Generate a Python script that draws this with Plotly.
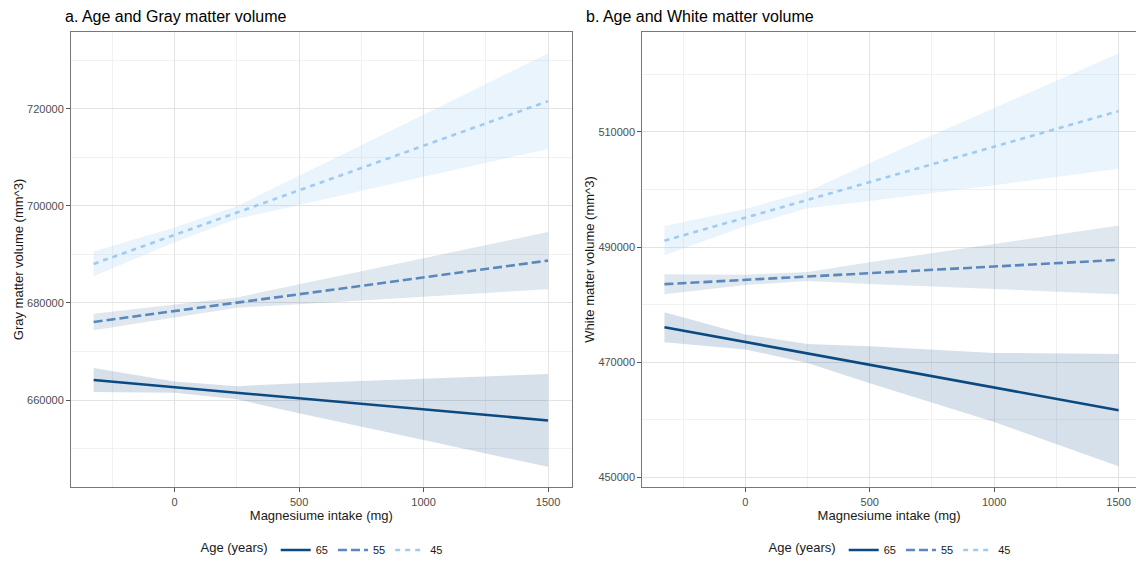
import plotly.graph_objects as go

# ---------------- data ----------------
ages = ["65", "55", "45"]
line_x = [-325, 1500]
ribbon_x = [-325, 0, 250, 500, 1000, 1500]

# Panel a: Gray matter volume
gray_65_line = [664150, 655816]
gray_65_upper = [666640, 663816, 662874, 663482, 664399, 665366]
gray_65_lower = [661660, 661516, 660174, 657282, 651799, 646266]

gray_55_line = [676090, 688727]
gray_55_upper = [677790, 679690, 681130, 683850, 689210, 694610]
gray_55_lower = [674390, 676990, 679010, 679750, 681310, 682850]

gray_45_line = [688050, 721560]
gray_45_upper = [690610, 695520, 699910, 706200, 718780, 731390]
gray_45_lower = [685490, 692520, 697310, 700200, 705980, 711730]

# Panel b: White matter volume
white_65_line = [476098, 461700]
white_65_upper = [478688, 474834, 473212, 472789, 471645, 471450]
white_65_lower = [473508, 472234, 469912, 466389, 459645, 451950]

white_55_line = [483578, 487800]
white_55_upper = [485308, 485230, 485708, 487386, 490543, 493775]
white_55_lower = [481848, 483430, 484108, 483586, 482743, 481825]

white_45_line = [491124, 513627]
white_45_upper = [493664, 496631, 499664, 504596, 514162, 523627]
white_45_lower = [488584, 493631, 496764, 497996, 500762, 503627]

gray_ticks = [660000, 680000, 700000, 720000]
white_ticks = [450000, 470000, 490000, 510000]
x_ticks = [0, 500, 1000, 1500]

# ---------------- style ----------------
FONT = "Liberation Sans, Arial, sans-serif"
line_colors = {"65": "#0B4A80", "55": "#5A87BE", "45": "#9ECBF1"}
fill_colors = {"65": "rgba(11,74,128,0.17)", "55": "rgba(11,74,128,0.13)",
               "45": "rgba(158,203,241,0.22)"}
dashes = {"65": "solid", "55": "9px,4px", "45": "5px,5px"}

panels = [
    dict(xa="x", ya="y", legend="legend",
         lines={"65": gray_65_line, "55": gray_55_line, "45": gray_45_line},
         upper={"65": gray_65_upper, "55": gray_55_upper, "45": gray_45_upper},
         lower={"65": gray_65_lower, "55": gray_55_lower, "45": gray_45_lower}),
    dict(xa="x2", ya="y2", legend="legend2",
         lines={"65": white_65_line, "55": white_55_line, "45": white_45_line},
         upper={"65": white_65_upper, "55": white_55_upper, "45": white_45_upper},
         lower={"65": white_65_lower, "55": white_55_lower, "45": white_45_lower}),
]

fig = go.Figure()
for p in panels:
    for a in ages:
        fig.add_trace(go.Scatter(
            x=ribbon_x + ribbon_x[::-1],
            y=p["upper"][a] + p["lower"][a][::-1],
            fill="toself", fillcolor=fill_colors[a], mode="none",
            line=dict(width=0), showlegend=False, hoverinfo="skip",
            xaxis=p["xa"], yaxis=p["ya"]))
    for a in ages:
        fig.add_trace(go.Scatter(
            x=line_x, y=p["lines"][a], mode="lines", name=a,
            line=dict(color=line_colors[a], width=2.6, dash=dashes[a]),
            legend=p["legend"], xaxis=p["xa"], yaxis=p["ya"]))

W, H = 1136, 565
grid_major = "#E3E3E3"
grid_minor = "#F1F1F1"
tickfont = dict(family=FONT, size=11, color="#4D4D4D")
titlefont = dict(family=FONT, size=13, color="#1A1A1A")

def xaxis(domain, rng, anchor):
    return dict(domain=domain, range=rng, anchor=anchor, tickvals=x_ticks,
                ticks="outside", ticklen=4, tickcolor="#555555",
                showline=True, linecolor="#777777", linewidth=1, mirror=True,
                showgrid=True, gridcolor=grid_major, gridwidth=1,
                minor=dict(dtick=250, tick0=0, showgrid=True, gridcolor=grid_minor, ticks=""),
                zeroline=False, tickfont=tickfont,
                title=dict(text="Magnesiume intake (mg)", font=titlefont, standoff=4))

def yaxis(domain, rng, anchor, ticks, title, mirror):
    return dict(domain=domain, range=rng, anchor=anchor, tickvals=ticks,
                tickformat="d", ticks="outside", ticklen=4, tickcolor="#555555",
                showline=True, linecolor="#777777", linewidth=1, mirror=mirror,
                showgrid=True, gridcolor=grid_major, gridwidth=1,
                minor=dict(dtick=20000, tick0=ticks[0] - 10000, showgrid=True,
                           gridcolor=grid_minor, ticks=""),
                zeroline=False, tickfont=tickfont,
                title=dict(text=title, font=titlefont, standoff=0))

ydom = [75 / H, (H - 31.7) / H]
legend_common = dict(orientation="h", yanchor="middle", y=12 / H, xanchor="center",
                     font=dict(family=FONT, size=11, color="#1A1A1A"),
                     title=dict(text="Age (years)", font=dict(family=FONT, size=13, color="#1A1A1A"),
                                side="left"),
                     itemwidth=30, tracegroupgap=0, bgcolor="rgba(0,0,0,0)")

fig.update_layout(
    width=W, height=H, margin=dict(l=0, r=0, t=0, b=0),
    paper_bgcolor="white", plot_bgcolor="white",
    font=dict(family=FONT),
    xaxis=xaxis([71 / W, 571.7 / W], [-416, 1595], "y"),
    yaxis=yaxis(ydom, [642033, 735892], "x", gray_ticks, "Gray matter volume (mm^3)", True),
    xaxis2=xaxis([642.3 / W, 1.0], [-414, 1570], "y2"),
    yaxis2=yaxis(ydom, [448295, 527440], "x2", white_ticks, "White matter volume (mm^3)", False),
    legend=dict(legend_common, x=323 / W),
    legend2=dict(legend_common, x=891 / W),
    annotations=[
        dict(text="a. Age and Gray matter volume", x=63 / W, y=(H - 17) / H,
             xref="paper", yref="paper", xanchor="left", yanchor="middle",
             showarrow=False, font=dict(family=FONT, size=16, color="black")),
        dict(text="b. Age and White matter volume", x=584 / W, y=(H - 17) / H,
             xref="paper", yref="paper", xanchor="left", yanchor="middle",
             showarrow=False, font=dict(family=FONT, size=16, color="black")),
    ],
)

fig.write_html("out.html")
